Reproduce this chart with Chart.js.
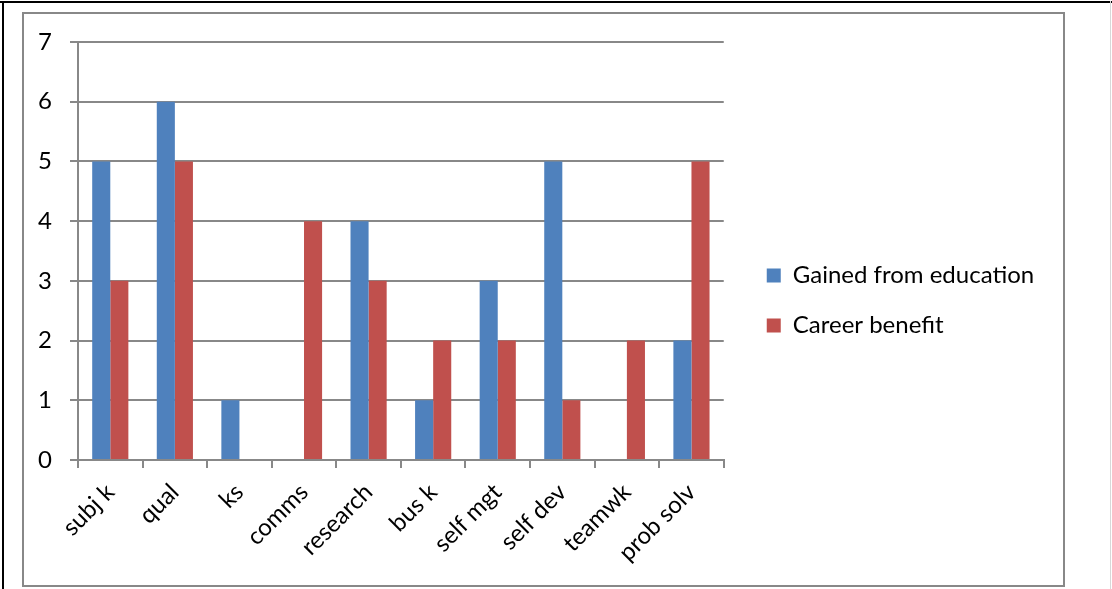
<!DOCTYPE html>
<html>
<head>
<meta charset="utf-8">
<script src="https://cdn.jsdelivr.net/npm/chart.js@4.4.0/dist/chart.umd.min.js"></script>
<style>
  body { margin: 0; background: #fff; }
  .page { position: relative; width: 1112px; height: 589px; overflow: hidden; }
  .topline { position: absolute; left: 0; top: 1px; width: 1112px; height: 2px; background: #000; }
  .leftline { position: absolute; left: 2px; top: 1px; width: 2px; height: 588px; background: #000; }
  .rightline { position: absolute; left: 1110px; top: 1px; width: 1px; height: 588px; background: #d8d8d8; }
  .frame { position: absolute; left: 22px; top: 12px; width: 1039px; height: 571px; border: 2px solid #888; }
  canvas { display: block; }
</style>
</head>
<body>
<div class="page">
  <div class="topline"></div>
  <div class="leftline"></div>
  <div class="rightline"></div>
  <div class="frame"><canvas id="chart" width="1039" height="571"></canvas></div>
</div>
<script>
// values
const categories = ['subj k', 'qual', 'ks', 'comms', 'research', 'bus k', 'self mgt', 'self dev', 'teamwk', 'prob solv'];
const gainedFromEducation = [5, 6, 1, 0, 4, 1, 3, 5, 0, 2];
const careerBenefit = [3, 5, 0, 4, 3, 2, 2, 1, 2, 5];
const yTicks = [0, 1, 2, 3, 4, 5, 6, 7];

const font = { family: 'Lato, "Liberation Sans", sans-serif', size: 24 };

// move the legend away from the plot and center it on the whole box, like the excel one
const legendGap = {
  id: 'legendGap',
  afterLayout(chart) {
    const lg = chart.legend;
    lg.left += 17;
    lg.right += 90;
    lg.top -= 26;
  }
};

new Chart(document.getElementById('chart'), {
  type: 'bar',
  data: {
    labels: categories,
    datasets: [
      { label: 'Gained from education', data: gainedFromEducation, backgroundColor: '#4F81BD' },
      { label: 'Career benefit', data: careerBenefit, backgroundColor: '#C0504D' }
    ]
  },
  options: {
    responsive: false,
    animation: false,
    devicePixelRatio: 1,
    categoryPercentage: 0.56,
    barPercentage: 1,
    layout: { padding: { top: 28, right: 106, bottom: 0, left: 0 } },
    plugins: {
      tooltip: { enabled: false },
      legend: {
        position: 'right',
        labels: { boxWidth: 14, boxHeight: 14, padding: 26, color: '#000', font: font }
      }
    },
    scales: {
      x: {
        grid: { offset: true, drawOnChartArea: false, drawTicks: true, tickLength: 8, color: '#888', lineWidth: 2 },
        border: { color: '#888', width: 2 },
        ticks: { color: '#000', font: font, minRotation: 45, maxRotation: 45, padding: 10 },
        afterFit(scale) {
          scale.height = 125;
          scale.paddingLeft = 0;
          scale.paddingRight = 0;
        }
      },
      y: {
        min: 0,
        max: yTicks[yTicks.length - 1],
        grid: { color: '#888', lineWidth: 2, tickLength: 8 },
        border: { color: '#888', width: 2 },
        afterBuildTicks(scale) { scale.ticks = yTicks.map(v => ({ value: v })); },
        ticks: { color: '#000', font: font, padding: 18 },
        afterFit(scale) {
          scale.width = 54;
          scale.paddingTop = 0;
          scale.paddingBottom = 0;
        }
      }
    }
  },
  plugins: [legendGap]
});
</script>
</body>
</html>
